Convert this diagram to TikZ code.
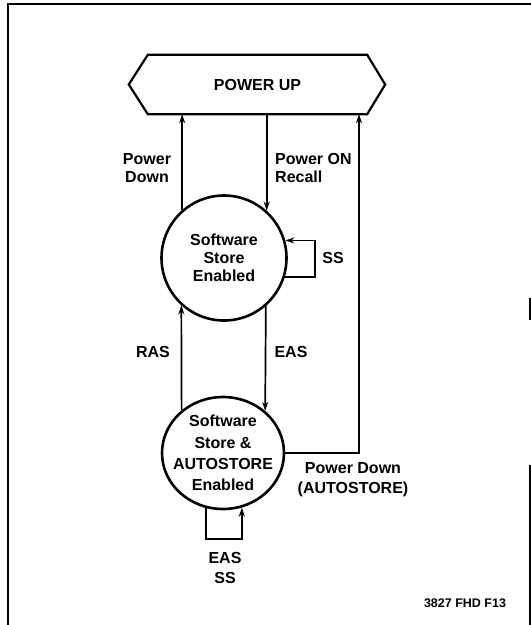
\documentclass[tikz,border=0pt]{standalone}
\usepackage{fontspec}
\setmainfont{Liberation Sans}
\usetikzlibrary{arrows.meta,shapes,positioning,calc}

\begin{document}
\begin{tikzpicture}[
    x=1pt, y=-1pt,
    txt/.style={font=\fontsize{16}{18}\selectfont\bfseries, align=center, inner sep=0pt},
    tallTxt/.style={font=\fontsize{16}{21.3}\selectfont\bfseries, align=center, inner sep=0pt},
    state/.style={draw, circle, line width=2.6pt, minimum size=125pt,
                  inner sep=0pt, txt},
    hexa/.style={line width=2.2pt, line join=miter},
    arr/.style={-{Stealth[length=9pt,width=6pt]}, line width=1.7pt},
    frame/.style={line width=1.6pt},
  ]
    \useasboundingbox (0,0) rectangle (531,625);

    % ---- Frame (scanned, cut on the right) ----
    \draw[frame] (8,625) -- (8,4) -- (531,4);
    \draw[frame] (530,298) -- (530,320);
    \draw[frame] (530,465) -- (530,625);

    % ---- Power up box ----
    \node[txt, minimum width=219pt, minimum height=59pt] (pwr) at (257.5,84.5) {POWER UP};
    \draw[hexa] (pwr.north west) -- (pwr.north east) -- ($(pwr.east)+(18,0)$)
      -- (pwr.south east) -- (pwr.south west) -- ($(pwr.west)+(-19,0)$) -- cycle;

    % ---- States ----
    \node[state] (sse) at (224,258) {Software\\Store\\Enabled};
    \node[state, ellipse, minimum width=122pt, minimum height=112pt] (sae) at (223,453) {};
    \node[tallTxt] (saeTxt) at (sae) {Software\\Store \&\\AUTOSTORE\\Enabled};

    % ---- Power up <-> software store ----
    \draw[arr] (sse.131.4) -- (sse.131.4 |- pwr.south);
    \draw[arr] (pwr.south -| sse.48.6) -- (sse.48.6);
    \node[txt] (lPd) at (147,168) {Power\\Down};
    \node[txt, align=left, anchor=west] (lPon) at (275,168) {Power ON\\Recall};

    % ---- SS loop ----
    \draw[arr] (sse.-17) -- ++(30,0) |- (sse.16);
    \node[txt] (lSs) at (333,258) {SS};

    % ---- Between the two states ----
    \draw[arr] (sae.134.6) -- (sse.228.6);
    \draw[arr] (sse.311.4) -- (sae.45.4);
    \node[txt] (lRas) at (153,352) {RAS};
    \node[txt] (lEas) at (291,352) {EAS};

    % ---- Power down in AUTOSTORE ----
    \draw[arr] (sae.east) -| ($(pwr.south)+(101.5,0)$);
    \node[txt, font=\fontsize{16}{20}\selectfont\bfseries] (lPda) at (353,480) {Power Down\\(AUTOSTORE)};

    % ---- EAS / SS loop ----
    \draw[arr] (sae.253.5) -- ++(0,31) -| (sae.289.7);
    \node[txt, font=\fontsize{16}{20}\selectfont\bfseries] (lEss) at (225,568) {EAS\\SS};

    % ---- Figure number ----
    \node[txt, font=\fontsize{12.5}{14}\selectfont\bfseries] (fig) at (465,603) {3827 FHD F13};
\end{tikzpicture}
\end{document}
